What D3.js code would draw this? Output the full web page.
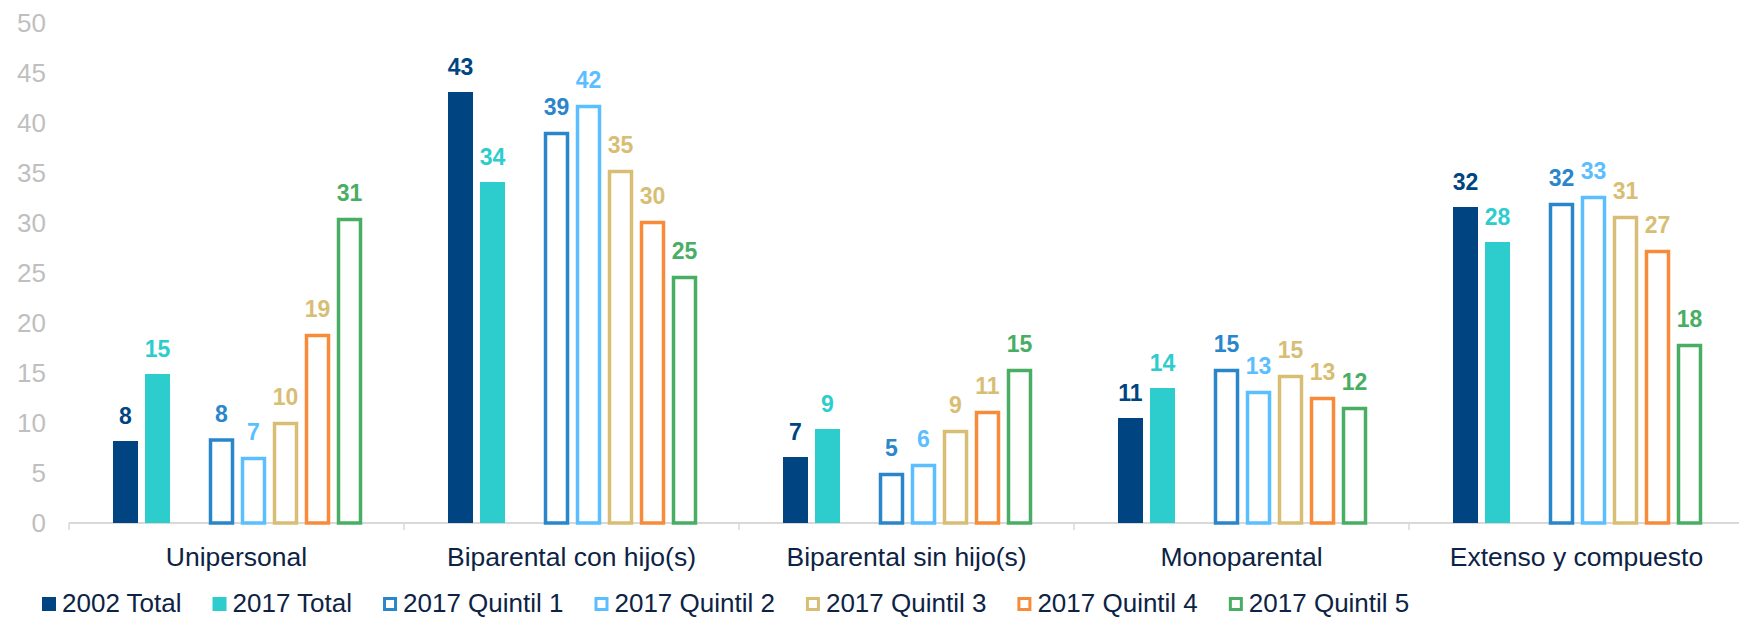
<!DOCTYPE html>
<html>
<head>
<meta charset="utf-8">
<script src="https://cdn.jsdelivr.net/npm/d3@7"></script>
<style>
  body { margin: 0; background: #fff; }
  svg text { font-family: "Liberation Sans", Arial, sans-serif; }
</style>
</head>
<body>
<svg id="my_dataviz" width="1739" height="618"></svg>
<script>
// Data
const categories = ["Unipersonal", "Biparental con hijo(s)", "Biparental sin hijo(s)", "Monoparental", "Extenso y compuesto"];
const seriesNames = ["2002 Total", "2017 Total", "2017 Quintil 1", "2017 Quintil 2", "2017 Quintil 3", "2017 Quintil 4", "2017 Quintil 5"];
const total2002 = [8.2, 43.1, 6.6, 10.5, 31.6];
const total2017 = [14.9, 34.1, 9.4, 13.5, 28.1];
const quintil1 = [8.45, 39.1, 5.0, 15.4, 32.0];
const quintil2 = [6.6, 41.8, 5.9, 13.2, 32.7];
const quintil3 = [10.1, 35.3, 9.3, 14.8, 30.7];
const quintil4 = [18.9, 30.2, 11.2, 12.6, 27.3];
const quintil5 = [30.5, 24.7, 15.4, 11.6, 17.9];
const yTicks = [0, 5, 10, 15, 20, 25, 30, 35, 40, 45, 50];

const seriesValues = [total2002, total2017, quintil1, quintil2, quintil3, quintil4, quintil5];
const barColors = ["#004481", "#2dcccd", "#2a86ca", "#5bbeff", "#d8be75", "#f78b3a", "#48ae64"];
const labelColors = ["#004481", "#2dcccd", "#2a86ca", "#5bbeff", "#d8be75", "#d8be75", "#48ae64"];
const filled = [true, true, false, false, false, false, false];

var svg = d3.select("svg#my_dataviz"),
    width = +svg.attr("width"),
    height = +svg.attr("height");

const x0 = 69, band = 335;

// scales
var x = d3.scaleBand()
    .domain(categories)
    .range([x0, x0 + band * categories.length])
    .padding(0);

// 8 slots: two totals, a gap, five quintiles
var slotKeys = ["2002 Total", "2017 Total", "_gap"].concat(seriesNames.slice(2));
var xInner = d3.scaleBand()
    .domain(slotKeys)
    .range([44, 293])
    .paddingInner(7 / 32)
    .paddingOuter(0);

var y = d3.scaleLinear()
    .domain([0, 50])
    .range([523, 23]);

// y axis labels (no line)
var yAxis = svg.append("g")
    .attr("transform", "translate(46,0)")
    .call(d3.axisLeft(y).tickValues(yTicks).tickSize(0).tickPadding(0));
yAxis.select(".domain").remove();
yAxis.selectAll("text")
    .attr("fill", "#bfbfbf")
    .style("font-size", "26px");

// x axis line + boundary ticks
svg.append("line")
    .attr("x1", x0).attr("x2", width)
    .attr("y1", y(0)).attr("y2", y(0))
    .attr("stroke", "#d9d9d9")
    .attr("stroke-width", 2);

svg.append("g")
    .selectAll("line")
    .data(d3.range(categories.length + 1))
    .enter()
    .append("line")
    .attr("x1", i => x0 + i * band)
    .attr("x2", i => x0 + i * band)
    .attr("y1", y(0))
    .attr("y2", y(0) + 7)
    .attr("stroke", "#d9d9d9")
    .attr("stroke-width", 1.5);

var xAxis = svg.append("g")
    .attr("transform", "translate(0," + y(0) + ")")
    .call(d3.axisBottom(x).tickSize(0).tickPadding(24));
xAxis.select(".domain").remove();
xAxis.selectAll("text")
    .attr("fill", "#0d2345")
    .style("font-size", "26.5px");

// bars
var rows = [];
seriesNames.forEach((name, s) => {
    categories.forEach((cat, c) => {
        rows.push({series: name, s: s, cat: cat, value: seriesValues[s][c]});
    });
});

var bars = svg.append("g")
    .selectAll("g")
    .data(rows)
    .enter()
    .append("g");

bars.append("rect")
    .attr("x", d => x(d.cat) + xInner(d.series) + (filled[d.s] ? 0 : 1.5))
    .attr("width", d => xInner.bandwidth() - (filled[d.s] ? 0 : 3))
    .attr("y", d => y(d.value) + (filled[d.s] ? 0 : 1.5))
    .attr("height", d => y(0) - y(d.value) - (filled[d.s] ? 0 : 1.5))
    .attr("fill", d => filled[d.s] ? barColors[d.s] : "#fff")
    .attr("stroke", d => filled[d.s] ? "none" : barColors[d.s])
    .attr("stroke-width", 3.5);

bars.append("text")
    .attr("x", d => x(d.cat) + xInner(d.series) + xInner.bandwidth() / 2)
    .attr("y", d => y(d.value) - 17)
    .attr("text-anchor", "middle")
    .attr("fill", d => labelColors[d.s])
    .style("font-size", "23px")
    .style("font-weight", "bold")
    .text(d => Math.round(d.value));

// legend
var legend = svg.append("g");
var lx = 42;
seriesNames.forEach((name, s) => {
    var item = legend.append("g").attr("transform", "translate(" + lx + ",597)");
    if (filled[s]) {
        item.append("rect")
            .attr("width", 14).attr("height", 14)
            .attr("fill", barColors[s]);
    } else {
        item.append("rect")
            .attr("x", 1.5).attr("y", 1.5)
            .attr("width", 11).attr("height", 11)
            .attr("fill", "#fff")
            .attr("stroke", barColors[s])
            .attr("stroke-width", 3);
    }
    var t = item.append("text")
        .attr("x", 20)
        .attr("y", 15)
        .attr("fill", "#0d2345")
        .style("font-size", "26px")
        .text(name);
    lx += 20 + t.node().getComputedTextLength() + 31;
});
</script>
</body>
</html>
